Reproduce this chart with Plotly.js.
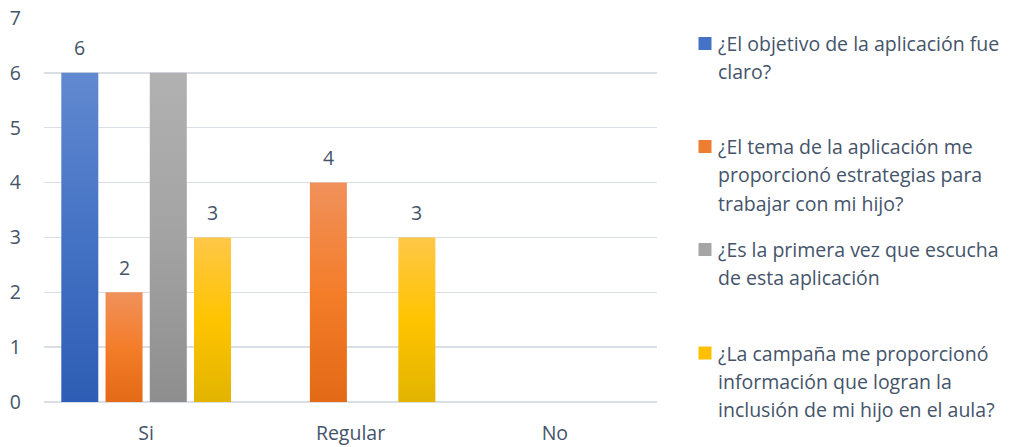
<!DOCTYPE html>
<html>
<head>
<meta charset="utf-8">
<script src="https://cdn.plot.ly/plotly-3.0.1.min.js"></script>
<style>html,body{margin:0;padding:0;background:#fff;}</style>
</head>
<body>
<div id="chart" style="width:1028px;height:447px;"></div>
<script>
// ---- data ----
const categories = ["Si", "Regular", "No"];
const seriesNames = [
  "¿El objetivo de la aplicación fue<br>claro?",
  "¿El tema de la aplicación me<br>proporcionó estrategias para<br>trabajar con mi hijo?",
  "¿Es la primera vez que escucha<br>de esta aplicación",
  "¿La campaña me proporcionó<br>información que logran la<br>inclusión de mi hijo en el aula?"
];
const objetivoClaro = [6, 0, 0];
const temaEstrategias = [2, 4, 0];
const primeraVez = [6, 0, 0];
const campanaInclusion = [3, 3, 0];
const showDataLabels = [true, true, false, true];
const yTicks = [0, 1, 2, 3, 4, 5, 6, 7];

const seriesValues = [objetivoClaro, temaEstrategias, primeraVez, campanaInclusion];
const baseColors = ["#4472C4", "#ED7D31", "#A5A5A5", "#FFC000"];
const gradStops = [
  ["#6189D0", "#4472C4", "#2E5DB5"],
  ["#F0915B", "#F47D2A", "#E36A16"],
  ["#B1B1B1", "#A3A3A3", "#8E8E8E"],
  ["#FFC748", "#FFC400", "#E2B400"]
];

const W = 1028, H = 447;
const M = {l: 44, r: 371, t: 18, b: 45};
const plotW = W - M.l - M.r, plotH = H - M.t - M.b;
const textColor = "#44546A";
const FONT = "'Open Sans', Lato, sans-serif";
const FS = 19.5;
const bargap = 0.134;
const bargroupgap = 0.163;

const traces = seriesValues.map((vals, i) => ({
  type: "bar",
  x: categories,
  y: vals,
  name: seriesNames[i],
  marker: {color: baseColors[i], line: {width: 0}},
  hoverinfo: "x+y"
}));

const annotations = [];
const step = (1 - bargap) / seriesValues.length;
seriesValues.forEach((vals, i) => {
  if (!showDataLabels[i]) return;
  vals.forEach((v, j) => {
    if (v > 0) {
      annotations.push({
        x: j + (i - (seriesValues.length - 1) / 2) * step,
        y: v, xref: "x", yref: "y",
        text: String(v), showarrow: false,
        yanchor: "middle", yshift: 25,
        font: {family: FONT, size: FS, color: textColor}
      });
    }
  });
});

// legend drawn as text lines + swatches
const px2x = px => (px - M.l) / plotW;
const py2y = py => (H - M.b - py) / plotH;
const legendTop = [43.5, 146.5, 249.5, 353];
const lineH = 28.3;
const shapes = [];
seriesNames.forEach((name, i) => {
  name.split("<br>").forEach((line, k) => {
    annotations.push({
      xref: "paper", yref: "paper",
      x: px2x(716), y: py2y(legendTop[i] + k * lineH),
      xanchor: "left", yanchor: "middle",
      text: line, showarrow: false,
      font: {family: FONT, size: FS, color: textColor}
    });
  });
  shapes.push({
    type: "rect", xref: "paper", yref: "paper",
    x0: px2x(698.5), x1: px2x(711.5),
    y0: py2y(legendTop[i] - 6.5), y1: py2y(legendTop[i] + 6.5),
    fillcolor: baseColors[i], line: {width: 0}
  });
});

const layout = {
  width: W, height: H,
  margin: M,
  paper_bgcolor: "#ffffff", plot_bgcolor: "#ffffff",
  barmode: "group", bargap: bargap, bargroupgap: bargroupgap,
  showlegend: false,
  font: {family: FONT, color: textColor, size: FS},
  xaxis: {
    type: "category", showgrid: false, showline: false, zeroline: false,
    ticks: "", tickfont: {size: FS, color: textColor, family: FONT},
    ticklabelstandoff: 17, fixedrange: true
  },
  yaxis: {
    range: [0, 7], tickvals: yTicks, showgrid: true, gridcolor: "#DADFE6", gridwidth: 1.3,
    zeroline: true, zerolinecolor: "#DADFE6", zerolinewidth: 1.3, showline: false,
    ticks: "", tickfont: {size: FS, color: textColor, family: FONT},
    ticklabelstandoff: 22, fixedrange: true
  },
  annotations: annotations,
  shapes: shapes
};

function applyGradients(gd) {
  const svg = gd.querySelector(".main-svg");
  if (!svg) return;
  let defs = svg.querySelector("defs");
  const NS = "http://www.w3.org/2000/svg";
  if (!defs) { defs = document.createElementNS(NS, "defs"); svg.insertBefore(defs, svg.firstChild); }
  gradStops.forEach((stops, i) => {
    const id = "barGrad" + i;
    if (!svg.querySelector("#" + id)) {
      const lg = document.createElementNS(NS, "linearGradient");
      lg.setAttribute("id", id);
      lg.setAttribute("x1", "0"); lg.setAttribute("y1", "0");
      lg.setAttribute("x2", "0"); lg.setAttribute("y2", "1");
      [[0, stops[0]], [0.5, stops[1]], [1, stops[2]]].forEach(([o, c]) => {
        const s = document.createElementNS(NS, "stop");
        s.setAttribute("offset", o);
        s.setAttribute("stop-color", c);
        lg.appendChild(s);
      });
      defs.appendChild(lg);
    }
  });
  const traceGroups = gd.querySelectorAll(".barlayer .trace");
  traceGroups.forEach((g, i) => {
    g.querySelectorAll(".point path").forEach(p => {
      p.style.fill = "url(#barGrad" + (i % gradStops.length) + ")";
    });
  });
}

const gd = document.getElementById("chart");
Plotly.newPlot(gd, traces, layout, {displayModeBar: false, staticPlot: true}).then(() => {
  applyGradients(gd);
  gd.on("plotly_afterplot", () => applyGradients(gd));
});
</script>
</body>
</html>
